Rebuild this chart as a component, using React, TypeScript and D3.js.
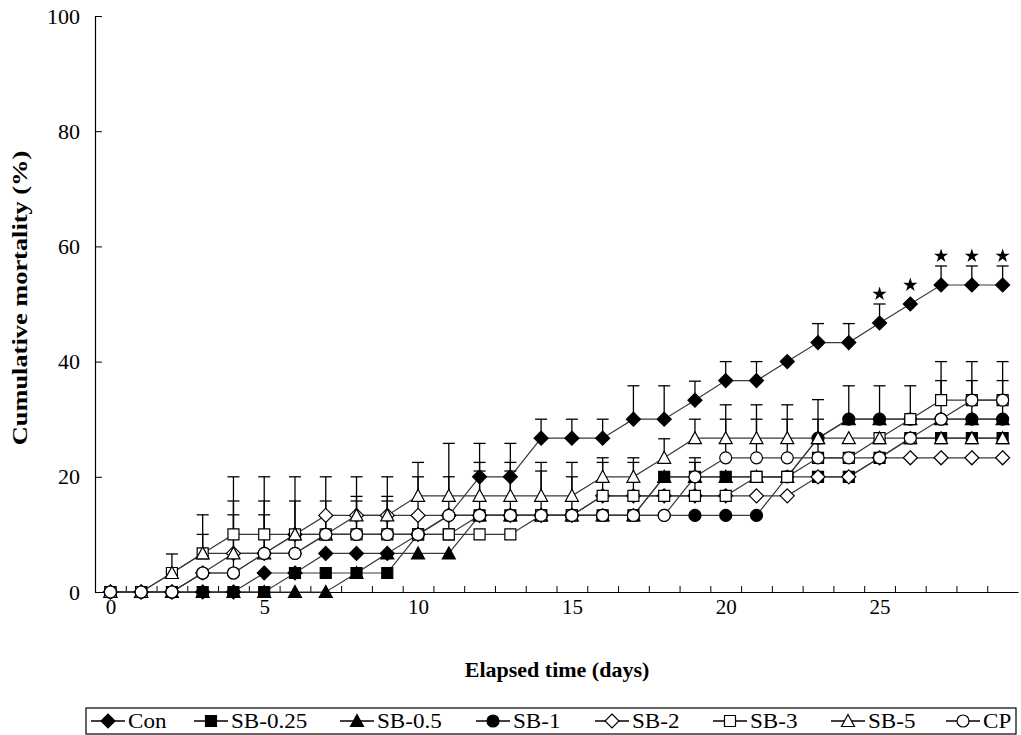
import {useEffect, useRef} from "react";
import * as d3 from "d3";

// Elapsed days (categories)
const days = [0, 1, 2, 3, 4, 5, 6, 7, 8, 9, 10, 11, 12, 13, 14, 15, 16, 17, 18, 19, 20, 21, 22, 23, 24, 25, 26, 27, 28, 29];

// Cumulative mortality (%) per group
const con = [0, 0, 0, 0, 0, 3.3, 3.3, 6.7, 6.7, 6.7, 10, 13.3, 20, 20, 26.7, 26.7, 26.7, 30, 30, 33.3, 36.7, 36.7, 40, 43.3, 43.3, 46.7, 50, 53.3, 53.3, 53.3];
const sb025 = [0, 0, 0, 0, 0, 0, 3.3, 3.3, 3.3, 3.3, 10, 10, 13.3, 13.3, 13.3, 13.3, 13.3, 13.3, 20, 20, 20, 20, 20, 20, 20, 23.3, 26.7, 26.7, 26.7, 26.7];
const sb05 = [0, 0, 0, 0, 0, 0, 0, 0, 3.3, 6.7, 6.7, 6.7, 13.3, 13.3, 13.3, 13.3, 13.3, 13.3, 20, 20, 20, 20, 20, 26.7, 30, 30, 30, 30, 30, 30];
const sb1 = [0, 0, 0, 3.3, 3.3, 6.7, 6.7, 10, 10, 10, 10, 13.3, 13.3, 13.3, 13.3, 13.3, 13.3, 13.3, 13.3, 13.3, 13.3, 13.3, 20, 26.7, 30, 30, 30, 30, 30, 30];
const sb2 = [0, 0, 0, 3.3, 6.7, 6.7, 10, 13.3, 13.3, 13.3, 13.3, 13.3, 13.3, 13.3, 13.3, 13.3, 16.7, 16.7, 16.7, 16.7, 16.7, 16.7, 16.7, 20, 20, 23.3, 23.3, 23.3, 23.3, 23.3];
const sb3 = [0, 0, 3.3, 6.7, 10, 10, 10, 10, 10, 10, 10, 10, 10, 10, 13.3, 13.3, 16.7, 16.7, 16.7, 16.7, 16.7, 20, 20, 23.3, 23.3, 26.7, 30, 33.3, 33.3, 33.3];
const sb5 = [0, 0, 3.3, 6.7, 6.7, 6.7, 10, 10, 13.3, 13.3, 16.7, 16.7, 16.7, 16.7, 16.7, 16.7, 20, 20, 23.3, 26.7, 26.7, 26.7, 26.7, 26.7, 26.7, 26.7, 26.7, 26.7, 26.7, 26.7];
const cp = [0, 0, 0, 3.3, 3.3, 6.7, 6.7, 10, 10, 10, 10, 13.3, 13.3, 13.3, 13.3, 13.3, 13.3, 13.3, 13.3, 20, 23.3, 23.3, 23.3, 23.3, 23.3, 23.3, 26.7, 30, 33.3, 33.3];

// Upper error (SD) per group, 0 = no bar
const conErr = [0, 0, 0, 0, 0, 0, 0, 0, 0, 0, 0, 0, 5.8, 5.8, 3.3, 3.3, 3.3, 5.8, 5.8, 3.3, 3.3, 3.3, 0, 3.3, 3.3, 3.3, 0, 3.3, 3.3, 3.3];
const sb1Err = [0, 0, 0, 0, 0, 0, 0, 0, 0, 0, 0, 0, 0, 0, 0, 0, 0, 0, 0, 0, 0, 0, 0, 0, 5.8, 5.8, 0, 0, 6.7, 6.7];
const sb3Err = [0, 0, 3.3, 6.7, 10, 10, 10, 10, 10, 10, 10, 10, 0, 0, 0, 0, 5.8, 5.8, 0, 5.8, 0, 0, 0, 0, 0, 0, 5.8, 6.7, 6.7, 6.7];
const sb5Err = [0, 0, 0, 3.3, 6.7, 6.7, 0, 0, 3.3, 3.3, 5.8, 9.1, 5.8, 5.8, 5.8, 5.8, 3.3, 3.3, 3.3, 3.3, 5.8, 5.8, 5.8, 6.7, 0, 0, 0, 0, 0, 0];
const cpErr = [0, 0, 0, 0, 12.5, 9.1, 9.1, 5.8, 5.8, 5.8, 0, 0, 7.7, 7.7, 7.7, 6.7, 0, 0, 0, 3.3, 6.7, 6.7, 6.7, 6.7, 0, 0, 0, 6.7, 0, 0];
const zeroErr = days.map(() => 0);

// Days with significant difference (Con)
const starDays = [25, 26, 27, 28, 29];

const yTicks = [0, 20, 40, 60, 80, 100];
const xLabels = [0, 5, 10, 15, 20, 25];

const series = [
    {name: "Con", values: con, err: conErr, shape: "diamond", filled: true},
    {name: "SB-0.25", values: sb025, err: zeroErr, shape: "square", filled: true},
    {name: "SB-0.5", values: sb05, err: zeroErr, shape: "triangle", filled: true},
    {name: "SB-1", values: sb1, err: sb1Err, shape: "circle", filled: true},
    {name: "SB-2", values: sb2, err: zeroErr, shape: "diamond", filled: false},
    {name: "SB-3", values: sb3, err: sb3Err, shape: "square", filled: false},
    {name: "SB-5", values: sb5, err: sb5Err, shape: "triangle", filled: false},
    {name: "CP", values: cp, err: cpErr, shape: "circle", filled: false},
];

const FONT = "'Liberation Serif', 'Times New Roman', serif";

function markerPath(shape) {
    if(shape === "diamond") return "M0,-7L7,0L0,7L-7,0Z";
    if(shape === "square") return "M-5.5,-5.5H5.5V5.5H-5.5Z";
    if(shape === "triangle") return "M0,-6.5L6.5,5.5H-6.5Z";
    return d3.symbol(d3.symbolCircle, 113)();
}

export default function App() {
    const ref = useRef(null);

    useEffect(() => {
        const el = ref.current;
        if(!el) return;
        const svg = d3.select(el);
        svg.selectAll("*").remove();

        const width = 1021;
        const height = 735;
        const left = 95, right = 1018, top = 16, bottom = 592;

        const x = d3.scaleLinear().domain([-0.5, 29.5]).range([left, right]);
        const y = d3.scaleLinear().domain([0, 100]).range([bottom, top]);

        svg.append("rect").attr("width", width).attr("height", height).attr("fill", "#fff");

        // y axis
        svg.append("g")
            .attr("transform", `translate(${left},0)`)
            .call(d3.axisLeft(y).tickValues(yTicks).tickSize(-7).tickPadding(15))
            .call((g) => g.select(".domain").attr("stroke", "#000").attr("stroke-width", 1.2))
            .call((g) => g.selectAll("line").attr("stroke", "#000"))
            .call((g) => g.selectAll("text").attr("fill", "#000").attr("font-size", 22).attr("font-family", FONT));

        // x axis: ticks between categories
        const bounds = days.slice(1).map((d) => d - 0.5);
        svg.append("g")
            .attr("transform", `translate(0,${bottom})`)
            .call(d3.axisBottom(x).tickValues(bounds).tickSize(-6).tickFormat(() => "").tickSizeOuter(0))
            .call((g) => g.select(".domain").attr("stroke", "#000").attr("stroke-width", 1.2))
            .call((g) => g.selectAll("line").attr("stroke", "#000"));

        svg.append("g")
            .attr("transform", `translate(0,${bottom})`)
            .call(d3.axisBottom(x).tickValues(xLabels).tickSize(0).tickPadding(7))
            .call((g) => g.select(".domain").remove())
            .call((g) => g.selectAll("text").attr("fill", "#000").attr("font-size", 21).attr("font-family", FONT));

        // axis titles
        svg.append("text")
            .attr("transform", "translate(27,298) rotate(-90) scale(1.2,1)")
            .attr("text-anchor", "middle")
            .attr("font-family", FONT)
            .attr("font-weight", "bold")
            .attr("font-size", 22)
            .text("Cumulative mortality (%)");

        svg.append("text")
            .attr("x", 557)
            .attr("y", 677)
            .attr("text-anchor", "middle")
            .attr("font-family", FONT)
            .attr("font-weight", "bold")
            .attr("font-size", 22)
            .text("Elapsed time (days)");

        // lines
        const line = d3.line().x((d, i) => x(days[i])).y((d) => y(d));
        series.forEach((s) => {
            svg.append("path")
                .datum(s.values)
                .attr("d", line)
                .attr("fill", "none")
                .attr("stroke", "#3a3a3a")
                .attr("stroke-width", 1.2);
        });

        // error bars (upper only)
        series.forEach((s) => {
            s.values.forEach((v, i) => {
                const e = s.err[i];
                if(!e) return;
                const cx = x(days[i]);
                svg.append("line")
                    .attr("x1", cx).attr("x2", cx)
                    .attr("y1", y(v)).attr("y2", y(v + e))
                    .attr("stroke", "#000").attr("stroke-width", 1.3);
                svg.append("line")
                    .attr("x1", cx - 6).attr("x2", cx + 6)
                    .attr("y1", y(v + e)).attr("y2", y(v + e))
                    .attr("stroke", "#000").attr("stroke-width", 1.3);
            });
        });

        // markers
        series.forEach((s) => {
            svg.append("g")
                .selectAll("path")
                .data(s.values)
                .join("path")
                .attr("transform", (d, i) => `translate(${x(days[i])},${y(d)})`)
                .attr("d", markerPath(s.shape))
                .attr("fill", s.filled ? "#000" : "#fff")
                .attr("stroke", "#000")
                .attr("stroke-width", 1.2);
        });

        // significance stars
        starDays.forEach((d) => {
            const v = con[d] + conErr[d];
            const yy = conErr[d] ? y(v) - 10 : y(v) - 19;
            svg.append("path")
                .attr("transform", `translate(${x(d)},${yy})`)
                .attr("d", d3.symbol(d3.symbolStar, 62)())
                .attr("fill", "#000");
        });

        // legend
        const lg = svg.append("g");
        lg.append("rect")
            .attr("x", 86).attr("y", 708)
            .attr("width", 930).attr("height", 26)
            .attr("fill", "#fff").attr("stroke", "#000").attr("stroke-width", 1.2);
        const legendX = [91, 194, 340, 476, 595, 713, 831, 946];
        series.forEach((s, i) => {
            const lx = legendX[i];
            const ly = 721;
            lg.append("line")
                .attr("x1", lx).attr("x2", lx + 34)
                .attr("y1", ly).attr("y2", ly)
                .attr("stroke", "#000").attr("stroke-width", 1.3);
            lg.append("path")
                .attr("transform", `translate(${lx + 17},${ly})`)
                .attr("d", markerPath(s.shape))
                .attr("fill", s.filled ? "#000" : "#fff")
                .attr("stroke", "#000")
                .attr("stroke-width", 1.2);
            lg.append("text")
                .attr("transform", `translate(${lx + 37},${ly + 7}) scale(1.1,1)`)
                .attr("font-family", FONT)
                .attr("font-size", 21)
                .text(s.name);
        });
    }, []);

    return (
        <svg
            ref={ref}
            width={1021}
            height={735}
            style={{position: "absolute", left: 0, top: 0, display: "block"}}
        />
    );
}
